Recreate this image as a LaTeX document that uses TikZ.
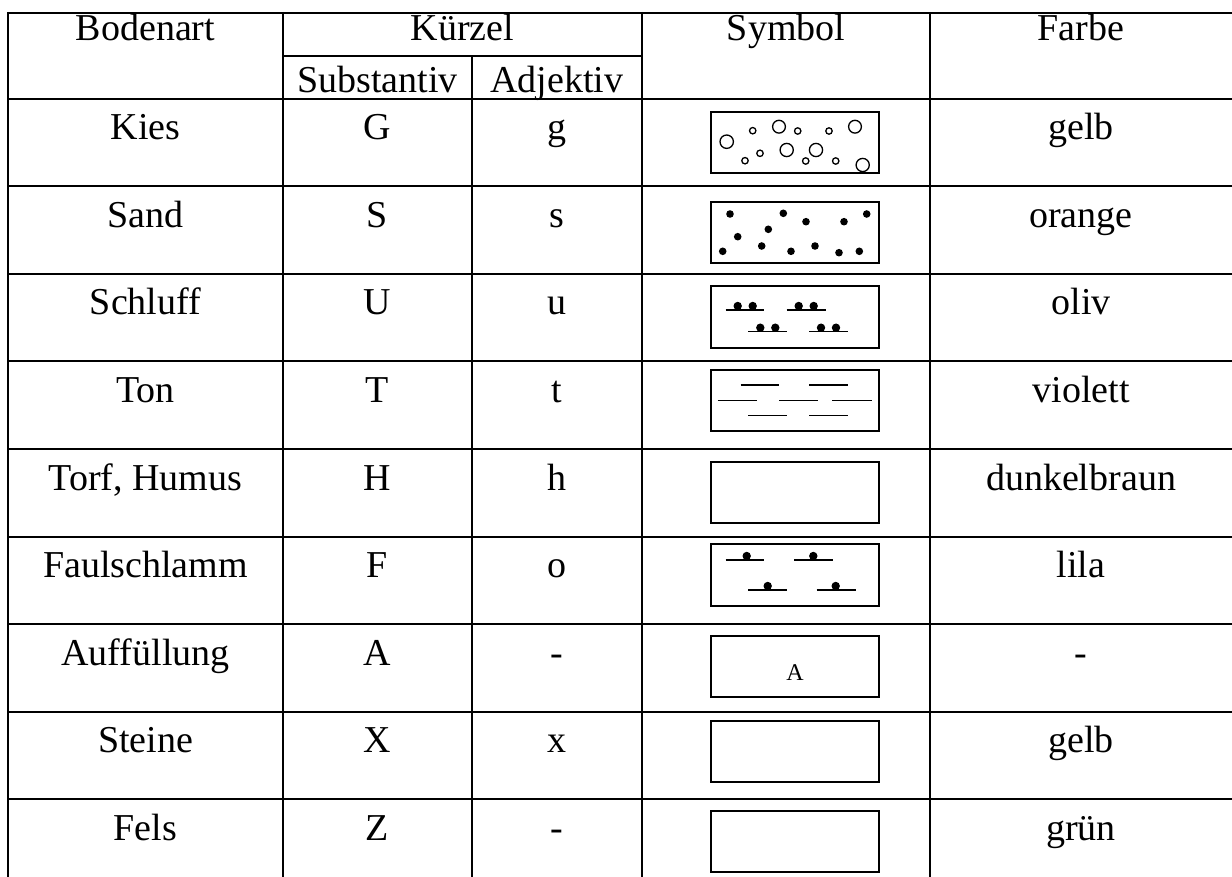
\documentclass[tikz,border=0pt]{standalone}
\usepackage{fontspec}
\setmainfont{Liberation Serif}
\begin{document}
\begin{tikzpicture}[x=1pt,y=-1pt,
  grid/.style={line width=2pt},
  symbox/.style={line width=1.4pt},
  symline/.style={line width=1.4pt},
  txt/.style={anchor=base, inner sep=0pt, font=\fontsize{38}{40}\selectfont},
  smalltxt/.style={anchor=center, inner sep=0pt, font=\fontsize{24}{26}\selectfont},
  ring/.style={line width=1.3pt}]
\useasboundingbox (0,0) rectangle (1232,877);
% ---------- grid ----------
\draw[grid] (8,13) -- (1232,13);
\draw[grid] (283,56) -- (642,56);
\foreach \y in {99,186.5,274,361.5,449,536.5,624,711.5,799}
  \draw[grid] (8,\y) -- (1232,\y);
\draw[grid] (8,12) -- (8,877);
\draw[grid] (283,12) -- (283,877);
\draw[grid] (472,56) -- (472,877);
\draw[grid] (642,12) -- (642,877);
\draw[grid] (930,12) -- (930,877);
% ---------- header ----------
\node[txt] (hBoden) at (145.5,41) {Bodenart};
\node[txt] (hKuerz) at (462.5,41) {Kürzel};
\node[txt] (hSubst) at (377.5,93) {Substantiv};
\node[txt] (hAdj) at (557,93) {Adjektiv};
\node[txt] (hSym) at (786,41) {Symbol};
\node[txt] (hFarbe) at (1081,41) {Farbe};
% ---------- rows ----------
\foreach \n/\t/\a/\b/\c/\f in {
  1/99/Kies/G/g/gelb,
  2/186.5/Sand/S/s/orange,
  3/274/Schluff/U/u/oliv,
  4/361.5/Ton/T/t/violett,
  5/449/{Torf, Humus}/H/h/dunkelbraun,
  6/536.5/Faulschlamm/F/o/lila,
  7/624/Auffüllung/A/-/-,
  8/711.5/Steine/X/x/gelb,
  9/799/Fels/Z/-/grün}{
  \node[txt] (art\n) at (145.5,\t+41) {\a};
  \node[txt] (sub\n) at (377.5,\t+41) {\b};
  \node[txt] (adj\n) at (557,\t+41) {\c};
  \node[txt] (farbe\n) at (1081,\t+41) {\f};
}
% ---------- symbol boxes ----------
\draw[symbox] (711,112) rectangle (879,173);   % Kies
\draw[symbox] (711,202) rectangle (879,263);   % Sand
\draw[symbox] (711,286) rectangle (879,348);   % Schluff
\draw[symbox] (711,370) rectangle (879,431);   % Ton
\draw[symbox] (711,462) rectangle (879,523);   % Torf
\draw[symbox] (711,544) rectangle (879,606);   % Faulschlamm
\draw[symbox] (711,636) rectangle (879,697);   % Auffuellung
\draw[symbox] (711,721) rectangle (879,782);   % Steine
\draw[symbox] (711,811) rectangle (879,872);   % Fels
% Kies: circles
\foreach \x/\y/\r in {726.7/141.7/6.7, 752.7/130.7/3.2, 779/126.7/6.4, 797.7/131/3.2,
  829/131/3.2, 855/126.7/6.4, 745/160.7/3.2, 760/153.3/3.2, 786.7/150/6.6,
  805.7/161/3.2, 816/150/6.6, 835.7/161/3.2, 862.7/165/6.6}
  \draw[ring] (\x,\y) circle[radius=\r];
% Sand: dots
\foreach \x/\y in {730/214, 783.3/213.3, 806/221.7, 844/221.7, 866.7/214,
  768.3/229.3, 737.7/236.7, 722.7/251.3, 761.7/246, 791/251.3, 815/246,
  839/252.7, 859.3/251.3}
  \fill (\x,\y) circle[radius=3.8];
% Schluff
\foreach \xa/\xb/\y in {725.7/764.3/310, 786.7/825.7/310, 748.3/787.3/331.7, 809/848.3/331.7}{
  \draw[symline] (\xa,\y) -- (\xb,\y);
  \fill ({\xa+12},\y-4) circle[radius=4.2];
  \fill ({\xa+27},\y-4) circle[radius=4.2];
}
% Ton
\foreach \xa/\xb/\y in {740.7/779.3/385, 809/847.7/385,
  717.7/757.3/400.7, 779/818.3/400.7, 832.3/871.7/400.7,
  748.3/787.3/415.7, 809/847.7/415.7}
  \draw[symline] (\xa,\y) -- (\xb,\y);
% Faulschlamm
\foreach \xa/\xb/\y/\d in {725.7/764.3/560/746.7, 794/833.3/560/813.3,
  748.3/787.3/590/767.7, 816.7/855.7/590/835.7}{
  \draw[symline] (\xa,\y) -- (\xb,\y);
  \fill (\d,\y-4) circle[radius=4.2];
}
% Auffuellung
\node[smalltxt] (symA) at (795,673) {A};
\end{tikzpicture}
\end{document}
